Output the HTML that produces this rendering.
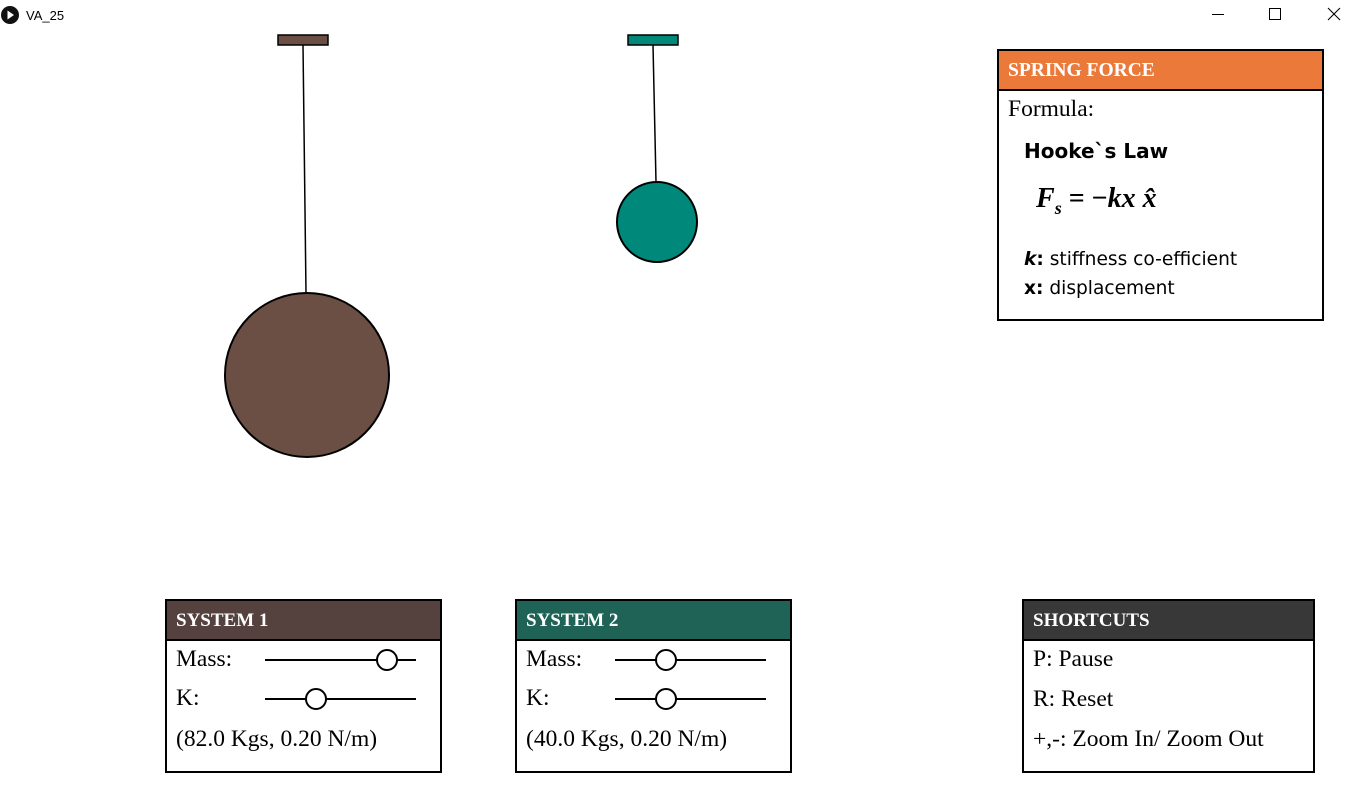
<!DOCTYPE html>
<html><head><meta charset="utf-8"><style>
html,body{margin:0;padding:0;background:#fff;width:1362px;height:797px;overflow:hidden}
svg{display:block}
.serif{font-family:"Liberation Serif",serif}
</style></head><body>
<svg width="1362" height="797" viewBox="0 0 1362 797" xmlns="http://www.w3.org/2000/svg">
<g>
 <circle cx="10" cy="15" r="9" fill="#111"/>
 <path d="M7.5 10.5 L14 15 L7.5 19.5 Z" fill="#fff"/>
 <text x="26" y="20" font-size="13" font-family="Liberation Sans,sans-serif" fill="#000">VA_25</text>
 <line x1="1212" y1="14.5" x2="1224" y2="14.5" stroke="#000" stroke-width="1"/>
 <rect x="1269.5" y="8.5" width="11" height="11" fill="none" stroke="#000"/>
 <g stroke="#000" stroke-width="1.1"><line x1="1328" y1="8" x2="1340" y2="20"/><line x1="1340" y1="8" x2="1328" y2="20"/></g>
</g>

<g>
 <rect x="278" y="35" width="50" height="10" fill="#6b4f44" stroke="#000" stroke-width="1.5"/>
 <line x1="303" y1="45" x2="306" y2="293" stroke="#000" stroke-width="1.5"/>
 <circle cx="307" cy="375" r="82" fill="#6b4f44" stroke="#000" stroke-width="2"/>
</g>
<g>
 <rect x="628" y="35" width="50" height="10" fill="#00897b" stroke="#000" stroke-width="1.5"/>
 <line x1="653" y1="45" x2="656" y2="182" stroke="#000" stroke-width="1.5"/>
 <circle cx="657" cy="222" r="40" fill="#00897b" stroke="#000" stroke-width="2"/>
</g>

<g>
 <rect x="998" y="50" width="325" height="270" fill="#fff" stroke="#000" stroke-width="2"/>
 <rect x="999" y="51" width="323" height="39" fill="#eb7a3a"/>
 <line x1="998" y1="90" x2="1323" y2="90" stroke="#000" stroke-width="2"/>
 <text x="1008" y="76" class="serif" font-size="19.5" font-weight="bold" fill="#fff">SPRING FORCE</text>
 <text x="1008" y="116" class="serif" font-size="23.5" fill="#000">Formula:</text>
 <text x="1024" y="158" font-family="DejaVu Sans,sans-serif" font-size="20" font-weight="bold" fill="#000">Hooke`s Law</text>
 <text x="1036" y="207" class="serif" font-size="28" font-weight="bold" font-style="italic" fill="#000">F<tspan font-size="18" dy="7">s</tspan><tspan dy="-7" font-style="normal"> = −</tspan>kx <tspan>x̂</tspan></text>
 <text x="1024" y="265" font-family="DejaVu Sans,sans-serif" font-size="18.6" fill="#000"><tspan font-weight="bold" font-style="italic">k</tspan><tspan font-weight="bold">:</tspan> stiffness co-efficient</text>
 <text x="1024" y="294" font-family="DejaVu Sans,sans-serif" font-size="18.6" fill="#000"><tspan font-weight="bold">x:</tspan> displacement</text>
</g>

<g>
 <rect x="166" y="600" width="275" height="172" fill="#fff" stroke="#000" stroke-width="2"/>
 <rect x="167" y="601" width="273" height="39" fill="#55413d"/>
 <line x1="166" y1="640" x2="441" y2="640" stroke="#000" stroke-width="2"/>
 <text x="176" y="626" class="serif" font-size="19" font-weight="bold" fill="#fff">SYSTEM 1</text>
 <text x="176" y="666" class="serif" font-size="23.5">Mass:</text>
 <line x1="265" y1="660" x2="416" y2="660" stroke="#000" stroke-width="2"/>
 <circle cx="387" cy="660" r="10" fill="#fff" stroke="#000" stroke-width="2"/>
 <text x="176" y="705" class="serif" font-size="23.5">K:</text>
 <line x1="265" y1="699" x2="416" y2="699" stroke="#000" stroke-width="2"/>
 <circle cx="316" cy="699" r="10" fill="#fff" stroke="#000" stroke-width="2"/>
 <text x="176" y="746" class="serif" font-size="23.5">(82.0 Kgs, 0.20 N/m)</text>
</g>

<g>
 <rect x="516" y="600" width="275" height="172" fill="#fff" stroke="#000" stroke-width="2"/>
 <rect x="517" y="601" width="273" height="39" fill="#1f6356"/>
 <line x1="516" y1="640" x2="791" y2="640" stroke="#000" stroke-width="2"/>
 <text x="526" y="626" class="serif" font-size="19" font-weight="bold" fill="#fff">SYSTEM 2</text>
 <text x="526" y="666" class="serif" font-size="23.5">Mass:</text>
 <line x1="615" y1="660" x2="766" y2="660" stroke="#000" stroke-width="2"/>
 <circle cx="666" cy="660" r="10" fill="#fff" stroke="#000" stroke-width="2"/>
 <text x="526" y="705" class="serif" font-size="23.5">K:</text>
 <line x1="615" y1="699" x2="766" y2="699" stroke="#000" stroke-width="2"/>
 <circle cx="666" cy="699" r="10" fill="#fff" stroke="#000" stroke-width="2"/>
 <text x="526" y="746" class="serif" font-size="23.5">(40.0 Kgs, 0.20 N/m)</text>
</g>

<g>
 <rect x="1023" y="600" width="291" height="172" fill="#fff" stroke="#000" stroke-width="2"/>
 <rect x="1024" y="601" width="289" height="39" fill="#383838"/>
 <line x1="1023" y1="640" x2="1314" y2="640" stroke="#000" stroke-width="2"/>
 <text x="1033" y="626" class="serif" font-size="19" font-weight="bold" fill="#fff">SHORTCUTS</text>
 <text x="1033" y="666" class="serif" font-size="23.5">P: Pause</text>
 <text x="1033" y="706" class="serif" font-size="23.5">R: Reset</text>
 <text x="1033" y="746" class="serif" font-size="23.5">+,-: Zoom In/ Zoom Out</text>
</g>
</svg>
</body></html>
